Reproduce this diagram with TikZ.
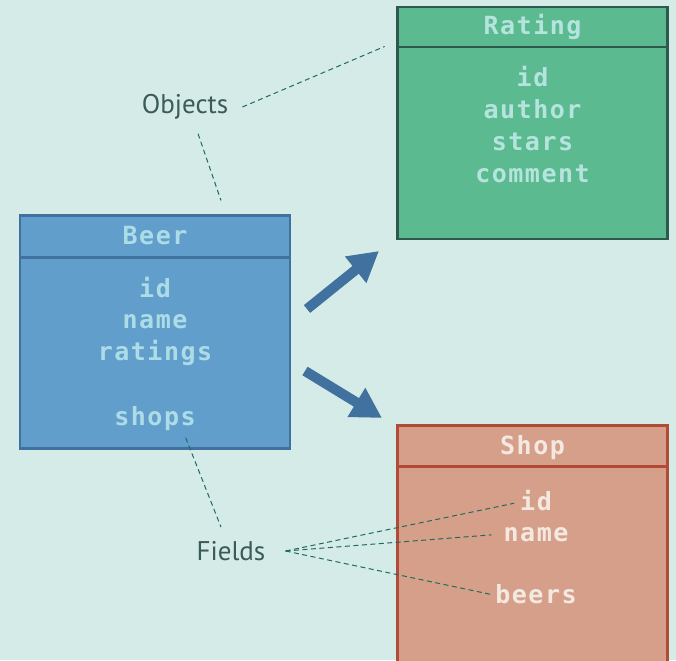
\documentclass[tikz,border=0pt]{standalone}
\usepackage{fontspec}
\setmainfont{PT Sans}
\setmonofont[LetterSpace=6]{DejaVu Sans Mono}
\usetikzlibrary{positioning,arrows.meta}

\definecolor{bgcol}{HTML}{D5EBE8}
\definecolor{beerfill}{HTML}{619ECC}
\definecolor{beerline}{HTML}{41719E}
\definecolor{beertext}{HTML}{ACDCE6}
\definecolor{ratingfill}{HTML}{5BBA8F}
\definecolor{ratingline}{HTML}{2E5A4E}
\definecolor{ratingtext}{HTML}{B5E4DF}
\definecolor{shopfill}{HTML}{D69F8A}
\definecolor{shopline}{HTML}{B24A38}
\definecolor{shoptext}{HTML}{F3E9E1}
\definecolor{hintcol}{HTML}{1F6B5E}
\definecolor{notecol}{HTML}{3B5B56}

\begin{document}
\begin{tikzpicture}[x=1pt, y=-1pt, node distance=9.5pt,
  mono/.style = {font=\ttfamily\bfseries\fontsize{25}{25}\selectfont, text height=19pt, text depth=3pt, inner sep=0pt},
  head/.style = {mono, draw, line width=2.8pt, outer sep=0pt, minimum width=270pt},
  body/.style = {draw, line width=2.8pt, outer sep=0pt, minimum width=270pt, inner sep=0pt},
  field/.style = {mono},
  note/.style = {font=\fontsize{27}{27}\selectfont, text=notecol, inner sep=14pt},
  hint/.style = {draw=hintcol, dash pattern=on 5pt off 3.5pt, line width=1pt},
  bigarrow/.style = {draw=beerline, line width=10pt, -{Triangle[length=30pt, width=32pt]}}]

\fill[bgcol] (0,0) rectangle (676,660);
\useasboundingbox (0,0) rectangle (676,660);

% Beer
\node[head, fill=beerfill, draw=beerline, text=beertext, minimum height=42pt] (beer) at (155,236.5) {Beer};
\node[body, fill=beerfill, draw=beerline, minimum height=191pt, below=0pt of beer] (beer-body) {};
\node[field, text=beertext] (beer-id) at (155,289) {id};
\node[field, text=beertext, below=of beer-id] (beer-name) {name};
\node[field, text=beertext, below=of beer-name] (beer-ratings) {ratings};
\node[field, text=beertext, below=42pt of beer-ratings] (beer-shops) {shops};

% Rating
\node[head, fill=ratingfill, draw=ratingline, text=ratingtext, minimum height=40pt] (rating) at (532.5,27) {Rating};
\node[body, fill=ratingfill, draw=ratingline, minimum height=192pt, below=0pt of rating] (rating-body) {};
\node[field, text=ratingtext] (rating-id) at (532.5,79) {id};
\node[field, text=ratingtext, below=of rating-id] (rating-author) {author};
\node[field, text=ratingtext, below=of rating-author] (rating-stars) {stars};
\node[field, text=ratingtext, below=of rating-stars] (rating-comment) {comment};

% Shop
\node[head, fill=shopfill, draw=shopline, text=shoptext, minimum height=41pt] (shop) at (532.5,446) {Shop};
\node[body, fill=shopfill, draw=shopline, minimum height=205pt, below=0pt of shop] (shop-body) {};
\node[field, text=shoptext] (shop-id) at (536,502) {id};
\node[field, text=shoptext, below=of shop-id] (shop-name) {name};
\node[field, text=shoptext, below=39pt of shop-name] (shop-beers) {beers};

% arrows
\coordinate (up-tail) at (307,309);
\coordinate (up-tip) at (379,251);
\coordinate (down-tail) at (305,371);
\coordinate (down-tip) at (382,418);
\draw[bigarrow] (up-tail) -- (up-tip);
\draw[bigarrow] (down-tail) -- (down-tip);

% notes
\node[note] (objects) at (185,107) {Objects};
\node[note, inner xsep=20pt] (fields) at (231,551) {Fields};

\draw[hint, shorten >=14pt] (objects.east) -- ([yshift=-14pt]rating.west);
\draw[hint] ([xshift=13pt]objects.south) -- ([xshift=66pt, yshift=15pt]beer.north);
\draw[hint, shorten <=10pt] ([xshift=27pt]beer-shops.south) -- ([xshift=-10pt]fields.north);
\draw[hint, shorten >=6pt] (fields.east) -- (shop-id.west);
\draw[hint, shorten >=12pt] (fields.east) -- (shop-name.west);
\draw[hint, shorten >=5pt] (fields.east) -- (shop-beers.west);
\end{tikzpicture}
\end{document}
